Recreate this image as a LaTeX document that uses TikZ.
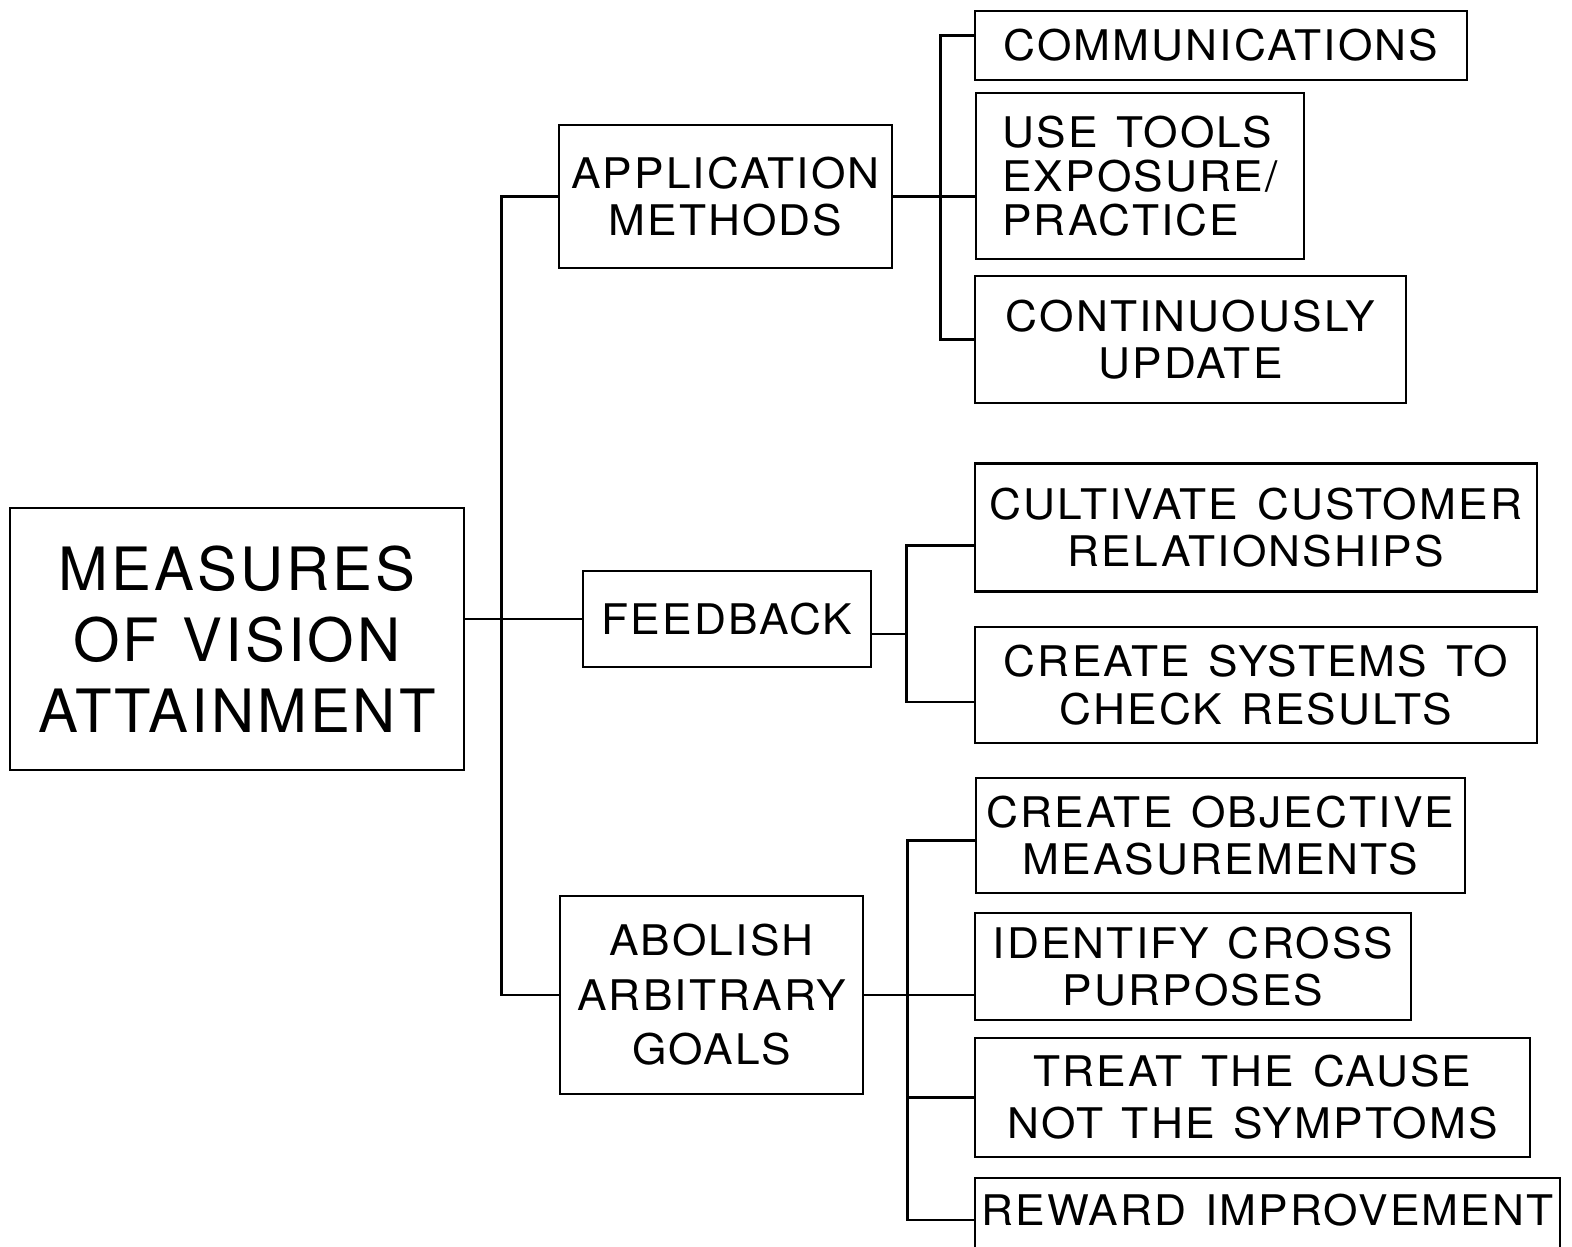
\documentclass[tikz,border=0pt]{standalone}
\usepackage{fontspec}
\setmainfont{TeX Gyre Heros}
\newfontfamily\rootfont[LetterSpace=5, WordSpace=1.2]{TeX Gyre Heros}
\newfontfamily\boxfont[FakeStretch=1.05, LetterSpace=5, WordSpace=1.3]{TeX Gyre Heros}
\usepackage{tikz}
\usetikzlibrary{positioning, calc}

\begin{document}
\begin{tikzpicture}[
      line width=0.75pt,
      box/.style={draw, inner sep=0pt, align=center, font=\boxfont\fontsize{12}{13.5}\selectfont},
      rootbox/.style={box, font=\rootfont\fontsize{17}{20.2}\selectfont},
      link/.style={draw, line width=0.75pt}
    ]
      \useasboundingbox (0,0) rectangle (15.72,-12.46);
      \clip (0,0) rectangle (15.72,-12.46);

      % root and the three branches
      \node[rootbox, minimum width=4.54cm, minimum height=2.62cm] (vision) at (2.37,-6.39) {MEASURES\\OF VISION\\ATTAINMENT};
      \node[box, minimum width=3.33cm, minimum height=1.43cm] (apply) at (7.255,-1.965) {APPLICATION\\METHODS};
      \node[box, minimum width=2.88cm, minimum height=0.96cm] (feedback) at (7.27,-6.19) {FEEDBACK};
      \node[box, minimum width=3.03cm, minimum height=1.98cm, font=\boxfont\fontsize{12}{15.5}\selectfont] (abolish) at (7.115,-9.95) {ABOLISH\\ARBITRARY\\GOALS};

      % leaves
      \node[box, minimum width=4.92cm, minimum height=0.69cm] (comm) at (12.21,-0.455) {COMMUNICATIONS};
      \node[box, minimum width=3.28cm, minimum height=1.66cm, align=left, font=\boxfont\fontsize{12}{12.6}\selectfont] (tools) at (11.40,-1.76) {USE TOOLS\\EXPOSURE/\\PRACTICE};
      \node[box, minimum width=4.31cm, minimum height=1.27cm] (update) at (11.905,-3.395) {CONTINUOUSLY\\UPDATE};
      \node[box, minimum width=5.62cm, minimum height=1.28cm] (customer) at (12.56,-5.275) {CULTIVATE CUSTOMER\\RELATIONSHIPS};
      \node[box, minimum width=5.62cm, minimum height=1.16cm] (checks) at (12.56,-6.85) {CREATE SYSTEMS TO\\CHECK RESULTS};
      \node[box, minimum width=4.89cm, minimum height=1.15cm] (objective) at (12.205,-8.355) {CREATE OBJECTIVE\\MEASUREMENTS};
      \node[box, minimum width=4.36cm, minimum height=1.07cm] (cross) at (11.93,-9.665) {IDENTIFY CROSS\\PURPOSES};
      \node[box, minimum width=5.55cm, minimum height=1.19cm, font=\boxfont\fontsize{12}{14.8}\selectfont] (cause) at (12.525,-10.975) {TREAT THE CAUSE\\NOT THE SYMPTOMS};
      \node[box, minimum width=5.85cm, minimum height=0.84cm, text depth=0.2cm] (reward) at (12.675,-12.20) {REWARD IMPROVEMENT};

      % main spine
      \draw[link] (feedback.west) -- (feedback.west -| vision.east);
      \draw[link] (apply.west) -- ++(-0.56,0) |- (abolish.west);

      % application methods
      \draw[link] (apply.east) -- (apply.east -| tools.west);
      \draw[link] ([yshift=1mm]comm.west) -- ++(-0.33,0) |- (update.west);

      % feedback
      \draw[link] ([yshift=-1.8mm]customer.west) -- ++(-0.67,0) coordinate (fbtop) |- ([yshift=-1.7mm]checks.west);
      \draw[link] ([yshift=-1.5mm]feedback.east) -- ([yshift=-1.5mm]feedback.east -| fbtop);

      % arbitrary goals
      \draw[link] (abolish.east) -- (abolish.east -| cross.west);
      \draw[link] ([yshift=-0.5mm]objective.west) -- ++(-0.67,0) coordinate (agtop) |- (reward.west);
      \draw[link] (cause.west) -- (cause.west -| agtop);
    \end{tikzpicture}
\end{document}
